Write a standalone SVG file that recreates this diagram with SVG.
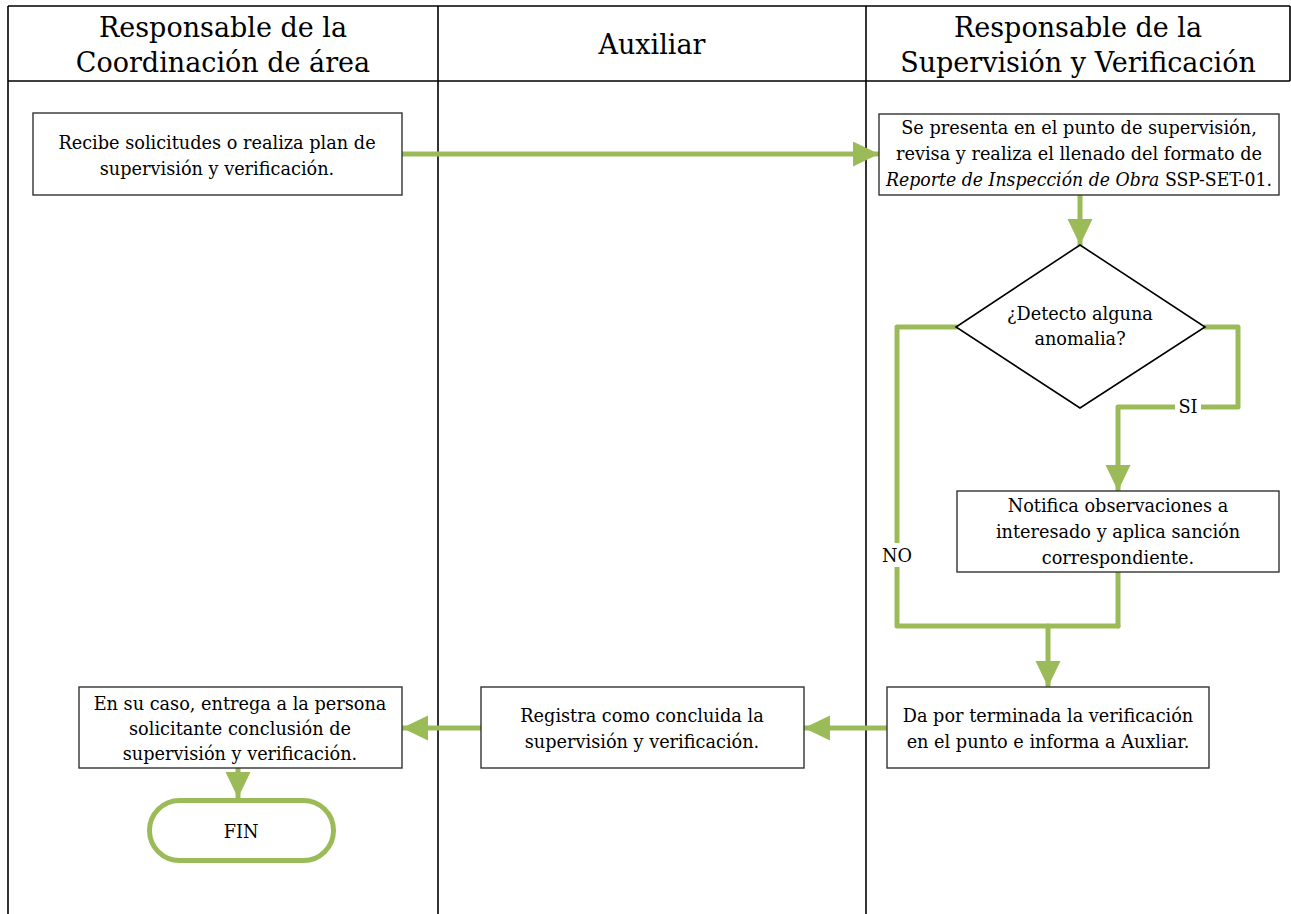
<svg xmlns="http://www.w3.org/2000/svg" width="1291" height="914" viewBox="0 0 1291 914">
<style>
.grid{stroke:#000;stroke-width:1.6;fill:none}
.box{fill:#fff;stroke:#333;stroke-width:1.4}
.dia{fill:#fff;stroke:#000;stroke-width:1.6}
.hd{font-family:"DejaVu Serif",serif;font-size:27px;fill:#000;text-anchor:middle}
.tx{font-family:"DejaVu Serif",serif;font-size:17.7px;fill:#000;text-anchor:middle}
.lb{font-family:"DejaVu Serif",serif;font-size:17.7px;fill:#000;text-anchor:middle}
.cn{fill:none;stroke:#9BBB59;stroke-width:5;stroke-linejoin:round;stroke-linecap:round}
.bg{fill:#fff}
</style>
<defs>
<marker id="ah" markerUnits="userSpaceOnUse" markerWidth="27" markerHeight="26" refX="26" refY="12.5" orient="auto">
<path d="M0,0 L26,12.5 L0,25 z" fill="#9BBB59"/>
</marker>
</defs>
<rect x="0" y="0" width="1291" height="914" fill="#fff"/>
<g id="lanes">
<line class="grid" x1="8" y1="6" x2="1290" y2="6"/>
<line class="grid" x1="8" y1="81" x2="1290" y2="81"/>
<line class="grid" x1="8" y1="6" x2="8" y2="914"/>
<line class="grid" x1="438" y1="6" x2="438" y2="914"/>
<line class="grid" x1="866" y1="6" x2="866" y2="914"/>
<line class="grid" x1="1290" y1="6" x2="1290" y2="81"/>
<text class="hd" x="223" y="37">Responsable de la</text>
<text class="hd" x="223" y="72">Coordinación de área</text>
<text class="hd" x="652" y="54">Auxiliar</text>
<text class="hd" x="1078" y="37">Responsable de la</text>
<text class="hd" x="1078" y="72">Supervisión y Verificación</text>
</g>
<g id="connectors">
<line class="cn" x1="402" y1="154" x2="879" y2="154" marker-end="url(#ah)"/>
<line class="cn" x1="1080" y1="195" x2="1080" y2="245" marker-end="url(#ah)"/>
<polyline class="cn" points="1205,327 1238,327 1238,407 1118,407 1118,491" marker-end="url(#ah)"/>
<polyline class="cn" points="956,327 897,327 897,626 1118,626"/>
<line class="cn" x1="1118" y1="572" x2="1118" y2="626"/>
<line class="cn" x1="1048" y1="626" x2="1048" y2="687" marker-end="url(#ah)"/>
<line class="cn" x1="887" y1="728" x2="804" y2="728" marker-end="url(#ah)"/>
<line class="cn" x1="481" y1="728" x2="402" y2="728" marker-end="url(#ah)"/>
<line class="cn" x1="238" y1="768" x2="238" y2="798" marker-end="url(#ah)"/>
<rect class="bg" x="1175" y="396" width="26" height="22"/>
<text class="lb" x="1188" y="413">SI</text>
<rect class="bg" x="879" y="543" width="36" height="24"/>
<text class="lb" x="897" y="562">NO</text>
</g>
<g id="n1">
<rect class="box" x="33" y="113" width="369" height="82"/>
<text class="tx" x="217" y="149">Recibe solicitudes o realiza plan de</text>
<text class="tx" x="217" y="175">supervisión y verificación.</text>
</g>
<g id="n2">
<rect class="box" x="879" y="114" width="400" height="81"/>
<text class="tx" x="1079" y="134">Se presenta en el punto de supervisión,</text>
<text class="tx" x="1079" y="160">revisa y realiza el llenado del formato de</text>
<text class="tx" x="1079" y="186" textLength="386" lengthAdjust="spacingAndGlyphs"><tspan font-style="italic">Reporte de Inspección de Obra</tspan> SSP-SET-01.</text>
</g>
<g id="n3">
<polygon class="dia" points="1080,245 1205,327 1080,408 956,327"/>
<text class="tx" x="1080" y="320">¿Detecto alguna</text>
<text class="tx" x="1080" y="345">anomalia?</text>
</g>
<g id="n4">
<rect class="box" x="957" y="491" width="322" height="81"/>
<text class="tx" x="1118" y="512">Notifica observaciones a</text>
<text class="tx" x="1118" y="538">interesado y aplica sanción</text>
<text class="tx" x="1118" y="564">correspondiente.</text>
</g>
<g id="n5">
<rect class="box" x="887" y="687" width="322" height="81"/>
<text class="tx" x="1048" y="722">Da por terminada la verificación</text>
<text class="tx" x="1048" y="748">en el punto e informa a Auxliar.</text>
</g>
<g id="n6">
<rect class="box" x="481" y="687" width="323" height="81"/>
<text class="tx" x="642" y="722">Registra como concluida la</text>
<text class="tx" x="642" y="748">supervisión y verificación.</text>
</g>
<g id="n7">
<rect class="box" x="79" y="687" width="323" height="81"/>
<text class="tx" x="240" y="710">En su caso, entrega a la persona</text>
<text class="tx" x="240" y="735">solicitante conclusión de</text>
<text class="tx" x="240" y="760">supervisión y verificación.</text>
</g>
<g id="n8">
<rect x="149.5" y="800.5" width="184" height="60" rx="30" ry="30" fill="#fff" stroke="#9BBB59" stroke-width="5"/>
<text class="tx" x="241" y="838">FIN</text>
</g>
</svg>
